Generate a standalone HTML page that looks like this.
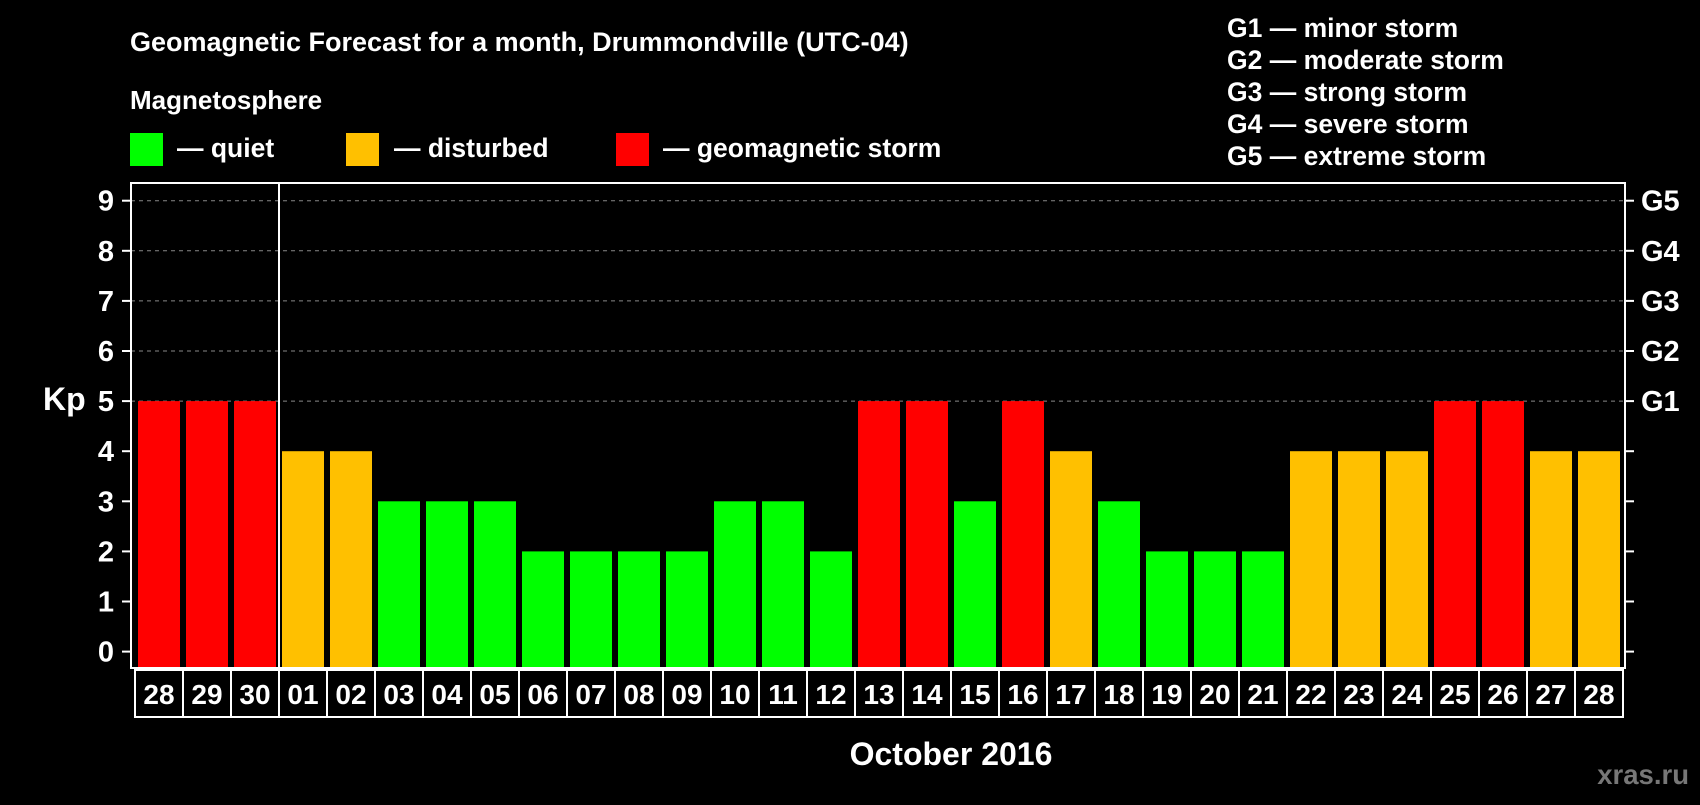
<!DOCTYPE html>
<html><head><meta charset="utf-8"><style>
html,body{margin:0;padding:0;background:#000;}
svg text{font-family:"Liberation Sans",Arial,sans-serif;font-weight:bold;fill:#fff;}
</style></head><body>
<svg width="1700" height="800" viewBox="0 0 1700 800" xmlns="http://www.w3.org/2000/svg">
<rect x="0" y="0" width="1700" height="800" fill="#000"/>
<text x="130" y="51" font-size="27">Geomagnetic Forecast for a month, Drummondville (UTC-04)</text>
<text x="130" y="109" font-size="26">Magnetosphere</text>
<rect x="130" y="133" width="33" height="33" fill="#00ff00"/>
<text x="177" y="157" font-size="26.5">— quiet</text>
<rect x="346" y="133" width="33" height="33" fill="#ffc000"/>
<text x="394" y="157" font-size="26.5">— disturbed</text>
<rect x="616" y="133" width="33" height="33" fill="#ff0000"/>
<text x="663" y="157" font-size="26.5">— geomagnetic storm</text>
<g font-size="26.5">
<text x="1227" y="37">G1 — minor storm</text>
<text x="1227" y="69">G2 — moderate storm</text>
<text x="1227" y="101">G3 — strong storm</text>
<text x="1227" y="133">G4 — severe storm</text>
<text x="1227" y="165">G5 — extreme storm</text>
</g>
<text x="43" y="410" font-size="32">Kp</text>
<text x="951" y="765" font-size="32" text-anchor="middle">October 2016</text>
<text x="1689" y="784" font-size="27.5" text-anchor="end" style="fill:#777">xras.ru</text>
<g id="plot"></g>
</svg>
<script>
const days = ["28","29","30","01","02","03","04","05","06","07","08","09","10","11","12","13","14","15","16","17","18","19","20","21","22","23","24","25","26","27","28"];
const kp = [5,5,5,4,4,3,3,3,2,2,2,2,3,3,2,5,5,3,5,4,3,2,2,2,4,4,4,5,5,4,4];
const yTicks = [0,1,2,3,4,5,6,7,8,9];
const gLabels = ["G1","G2","G3","G4","G5"];
const monthStartIndex = 3;

const NS="http://www.w3.org/2000/svg";
const g=document.getElementById('plot');
const L=131,R=1625,T=183,B=668;
const y=v=>651.6-v*50.1;
const x0=138, pitch=48, bw=42;
const xb=i=>x0+i*pitch;
function mk(t,a){const e=document.createElementNS(NS,t);for(const k in a)e.setAttribute(k,a[k]);g.appendChild(e);return e;}
yTicks.forEach(v=>{
  if(v>=5){const l=mk('line',{x1:L,x2:R,y1:y(v),y2:y(v),stroke:'#888','stroke-dasharray':'4,4','stroke-width':1});
  
  }
  const t1=mk('line',{x1:L-9,x2:L,y1:y(v),y2:y(v),stroke:'#fff','stroke-width':2});
  
  
  const t2=mk('line',{x1:R,x2:R+9,y1:y(v),y2:y(v),stroke:'#fff','stroke-width':2});
  
  
  const tx=mk('text',{x:114,y:y(v)+10,'font-size':29,'text-anchor':'end'});
  tx.textContent=v;
  
  
});
gLabels.forEach((s,i)=>{
  const tx=mk('text',{x:1641,y:y(5+i)+10,'font-size':29});
  tx.textContent=s;
  
  
});
kp.forEach((v,i)=>{
  const c=v>=5?'#ff0000':(v==4?'#ffc000':'#00ff00');
  const r=mk('rect',{x:xb(i),y:y(v),width:bw,height:B-y(v),fill:c});
  
  
});
const f=mk('rect',{x:L,y:T,width:R-L,height:B-T,fill:'none',stroke:'#fff','stroke-width':2});


const sep=mk('line',{x1:xb(monthStartIndex)-3,x2:xb(monthStartIndex)-3,y1:T,y2:B,stroke:'#fff','stroke-width':2});


days.forEach((d,i)=>{
  const bx=mk('rect',{x:xb(i)-3,y:670,width:pitch,height:47,fill:'none',stroke:'#fff','stroke-width':2});
  
  
  const tx=mk('text',{x:xb(i)-3+pitch/2,y:704,'font-size':28,'text-anchor':'middle'});
  tx.textContent=d;
  
  
});
</script>
</body></html>
